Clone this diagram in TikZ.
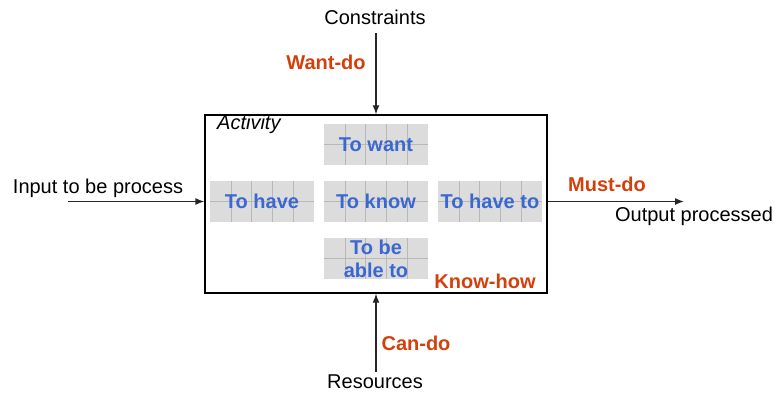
\documentclass[tikz,border=0pt]{standalone}
\usepackage{fontspec}
\setmainfont{Liberation Sans}
\usetikzlibrary{arrows.meta,calc}
\definecolor{lblred}{HTML}{D4400C}
\definecolor{lblblue}{HTML}{3A68D0}
\definecolor{cellfill}{HTML}{DCDCDC}
\definecolor{cellgrid}{HTML}{B8B8B8}
\tikzset{
  txt/.style={inner sep=0pt, font=\fontsize{20}{23}\selectfont, text=black},
  redlbl/.style={inner sep=0pt, font=\fontsize{20}{23}\selectfont\bfseries, text=lblred},
  cell/.style={inner sep=0pt, minimum width=104pt, minimum height=41pt, fill=cellfill,
    align=center, font=\fontsize{20}{23}\selectfont\bfseries, text=lblblue,
    path picture={
      \foreach \i in {1,...,4}{
        \draw[cellgrid, line width=0.6pt]
          ($(path picture bounding box.north west)!\i/5!(path picture bounding box.north east)$) --
          ($(path picture bounding box.south west)!\i/5!(path picture bounding box.south east)$);}
      \draw[cellgrid, line width=0.6pt] (path picture bounding box.west) -- (path picture bounding box.east);
    }},
  flow/.style={draw=black!85, line width=1.3pt, -{Latex[length=9pt,width=7pt]}},
  frame/.style={draw=black, line width=1.3pt}
}
\begin{document}
\begin{tikzpicture}[x=1pt,y=-1pt]
\useasboundingbox (0,0) rectangle (776,394);
% main activity frame
\node[frame, inner sep=0pt, minimum width=342pt, minimum height=178pt] (act) at (376,204) {};
\node[txt, anchor=west, font=\fontsize{20}{23}\selectfont\itshape] (actlbl) at (217,124) {Activity};
% inner cells
\node[cell] (want) at (376,144.5) {To want};
\node[cell] (have) at (262,201.5) {To have};
\node[cell] (know) at (376,201.5) {To know};
\node[cell] (haveto) at (490,201.5) {To have to};
\node[cell] (able) at (376,258.5) {To be\\able to};
\node[redlbl] (knowhow) at (485,281) {Know-how};
% outer labels
\node[txt] (constr) at (375,17) {Constraints};
\node[redlbl] (wantdo) at (326,62) {Want-do};
\node[txt] (input) at (98,188) {Input to be process};
\node[redlbl] (mustdo) at (607,184) {Must-do};
\node[txt] (output) at (694,216) {Output processed};
\node[redlbl] (cando) at (416,343) {Can-do};
\node[txt] (res) at (375,382) {Resources};
% connectors
\coordinate (inStart) at (68,201.5);
\coordinate (outEnd) at (684,201.5);
\coordinate (topStart) at (376,33);
\coordinate (botStart) at (376,372);
\draw[flow] (topStart) -- (act.north);
\draw[flow] (botStart) -- (act.south);
\draw[flow] (inStart) -- (inStart -| act.west);
\draw[flow] (outEnd -| act.east) -- (outEnd);
\end{tikzpicture}
\end{document}
